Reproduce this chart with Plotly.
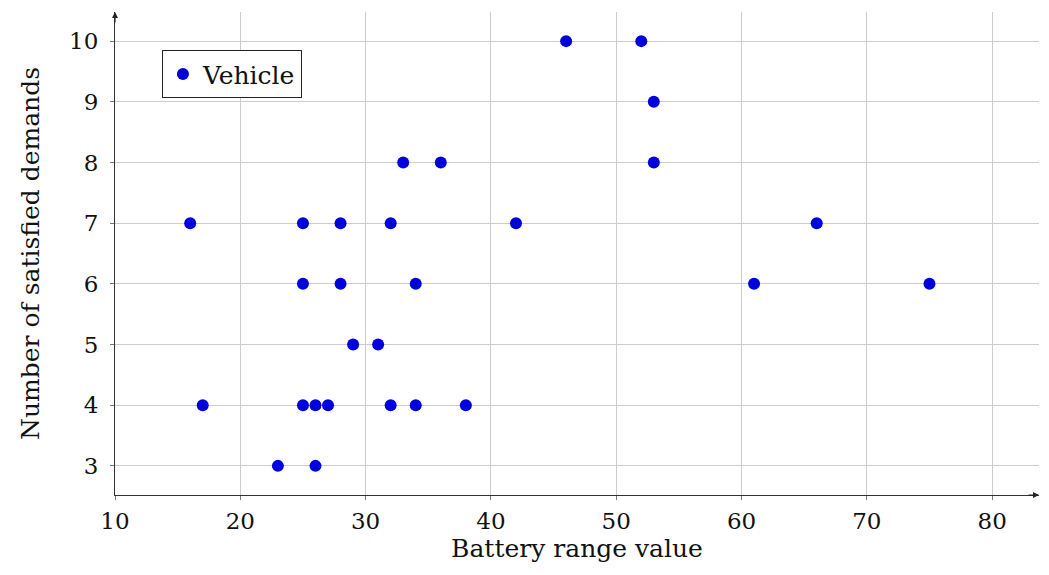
import plotly.graph_objects as go

battery_range = [16, 17, 23, 25, 25, 25, 26, 26, 27, 28, 28, 29, 31, 32, 32, 33, 34, 34, 36, 38, 42, 46, 52, 53, 53, 61, 66, 75]
satisfied = [7, 4, 3, 7, 6, 4, 4, 3, 4, 7, 6, 5, 5, 7, 4, 8, 6, 4, 8, 4, 7, 10, 10, 9, 8, 6, 7, 6]
x_ticks = [10, 20, 30, 40, 50, 60, 70, 80]
y_ticks = [3, 4, 5, 6, 7, 8, 9, 10]

FONT = "DejaVu Serif"
FS = 25
TFS = 23

fig = go.Figure()
fig.add_trace(go.Scatter(
    x=battery_range, y=satisfied, mode="markers", name="Vehicle",
    marker=dict(size=12, color="rgb(0,0,220)", line=dict(width=0)),
))

axis_common = dict(
    showgrid=True, gridcolor="#cccccc", gridwidth=1,
    showline=True, linecolor="#333333", linewidth=1.2,
    ticks="outside", ticklen=4, tickcolor="#777777",
    zeroline=False, mirror=False, automargin=False,
    tickfont=dict(family=FONT, size=TFS, color="#111111"),
)

# page body has an 8px margin; the figure is sized to stay inside the visible window
fig.update_layout(
    width=1033, height=559,
    margin=dict(l=107, r=2, t=4, b=72),
    paper_bgcolor="white", plot_bgcolor="white",
    font=dict(family=FONT, size=FS, color="#111111"),
    xaxis=dict(range=[10, 83.74], tickvals=x_ticks, ticklabelstandoff=1,
               title=dict(text="Battery range value", font=dict(family=FONT, size=FS), standoff=6),
               **axis_common),
    yaxis=dict(range=[2.52, 10.48], tickvals=y_ticks, ticklabelstandoff=7,
               title=dict(text="Number of satisfied demands", font=dict(family=FONT, size=FS), standoff=22),
               **axis_common),
    legend=dict(x=0.0508, y=0.921, xanchor="left", yanchor="top",
                bordercolor="#222222", borderwidth=1, bgcolor="white",
                font=dict(family=FONT, size=FS), itemwidth=30),
    showlegend=True,
)

# axis arrowheads
fig.add_annotation(x=1, y=0, xref="paper", yref="paper", ax=-12, ay=0,
                   text="", showarrow=True, arrowhead=2, arrowsize=1, arrowwidth=1.2,
                   arrowcolor="#222222")
fig.add_annotation(x=0, y=1, xref="paper", yref="paper", ax=0, ay=12,
                   text="", showarrow=True, arrowhead=2, arrowsize=1, arrowwidth=1.2,
                   arrowcolor="#222222")

fig.write_html("out.html")
